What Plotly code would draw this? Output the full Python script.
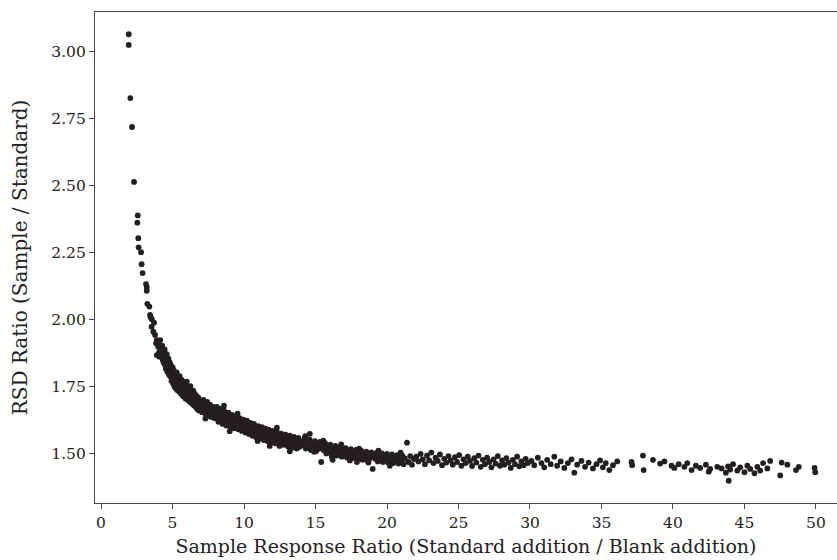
import plotly.graph_objects as go

# Steep region at low response ratios
steep_x = [1.94, 1.94, 2.05, 2.17, 2.31, 2.57, 2.54, 2.61, 2.63, 2.80, 2.84, 2.91,
           3.15, 3.20, 3.20, 3.24, 3.38, 3.43, 3.47, 3.55, 3.54, 3.66, 3.71, 3.78,
           3.90, 3.85, 4.00, 4.13, 3.90, 4.08]
steep_y = [3.066, 3.026, 2.828, 2.720, 2.515, 2.390, 2.363, 2.305, 2.271, 2.253, 2.208, 2.175,
           2.134, 2.123, 2.109, 2.060, 2.050, 2.019, 2.010, 2.003, 1.975, 1.956, 1.990, 1.944,
           1.925, 1.913, 1.900, 1.894, 1.869, 1.863]

# Knee of the curve (ratio 4 to 8)
knee_x = [4.02, 4.06, 4.10, 4.14, 4.17, 4.21, 4.24, 4.28, 4.32, 4.35, 4.38, 4.42, 4.45, 4.48,
          4.51, 4.54, 4.57, 4.60, 4.63, 4.66, 4.69, 4.72, 4.75, 4.78, 4.81, 4.84, 4.87, 4.90,
          4.93, 4.96, 4.99, 5.02, 5.05, 5.08, 5.11, 5.14, 5.17, 5.20, 5.23, 5.26, 5.29, 5.32,
          5.35, 5.38, 5.41, 5.44, 5.47, 5.50, 5.53, 5.56, 5.59, 5.62, 5.65, 5.68, 5.71, 5.74,
          5.77, 5.80, 5.83, 5.86, 5.89, 5.92, 5.95, 5.98, 6.02, 6.06, 6.10, 6.14, 6.18, 6.22,
          6.25, 6.29, 6.33, 6.37, 6.41, 6.45, 6.49, 6.53, 6.57, 6.61, 6.65, 6.69, 6.73, 6.77,
          6.81, 6.85, 6.89, 6.93, 6.97, 7.02, 7.07, 7.12, 7.17, 7.22, 7.27, 7.32, 7.37, 7.42,
          7.47, 7.52, 7.57, 7.62, 7.67, 7.72, 7.77, 7.82, 7.87, 7.92, 7.97,
          6.00, 7.30]
knee_y = [1.915, 1.878, 1.898, 1.925, 1.872, 1.890, 1.862, 1.904, 1.851, 1.878, 1.840, 1.868,
          1.890, 1.832, 1.858, 1.818, 1.846, 1.872, 1.808, 1.836, 1.824, 1.856, 1.796, 1.818,
          1.842, 1.790, 1.808, 1.830, 1.772, 1.800, 1.784, 1.822, 1.762, 1.790, 1.810, 1.752,
          1.776, 1.796, 1.744, 1.768, 1.804, 1.758, 1.738, 1.782, 1.750, 1.770, 1.732, 1.790,
          1.745, 1.762, 1.726, 1.752, 1.776, 1.720, 1.742, 1.760, 1.714, 1.736, 1.768, 1.722,
          1.748, 1.706, 1.734, 1.755, 1.712, 1.728, 1.700, 1.744, 1.716, 1.694, 1.753, 1.708,
          1.730, 1.688, 1.714, 1.736, 1.682, 1.702, 1.724, 1.676, 1.698, 1.716, 1.668, 1.690,
          1.710, 1.662, 1.684, 1.700, 1.672, 1.694, 1.656, 1.680, 1.702, 1.662, 1.686, 1.648,
          1.674, 1.694, 1.654, 1.670, 1.642, 1.684, 1.660, 1.638, 1.668, 1.650, 1.676, 1.634,
          1.656,
          1.770, 1.632]

# Middle section (ratio 8 to 14)
mid_x = [8.01, 8.06, 8.11, 8.16, 8.21, 8.26, 8.31, 8.36, 8.41, 8.46, 8.51, 8.56, 8.61, 8.66,
         8.71, 8.76, 8.81, 8.86, 8.91, 8.96, 9.01, 9.06, 9.11, 9.16, 9.21, 9.26, 9.31, 9.36,
         9.41, 9.46, 9.51, 9.55, 9.60, 9.65, 9.70, 9.75, 9.80, 9.85, 9.90, 9.95, 10.00, 10.05,
         10.10, 10.15, 10.20, 10.25, 10.30, 10.35, 10.40, 10.45, 10.50, 10.55, 10.60, 10.65,
         10.70, 10.75, 10.80, 10.85, 10.90, 10.95, 11.00, 11.05, 11.10, 11.15, 11.20, 11.25,
         11.30, 11.35, 11.40, 11.45, 11.50, 11.55, 11.60, 11.65, 11.70, 11.75, 11.80, 11.85,
         11.90, 11.95, 12.00, 12.06, 12.12, 12.18, 12.24, 12.30, 12.36, 12.42, 12.48, 12.54,
         12.60, 12.66, 12.72, 12.78, 12.84, 12.90, 12.96, 13.02, 13.08, 13.14, 13.20, 13.26,
         13.32, 13.38, 13.44, 13.50, 13.56, 13.62, 13.68, 13.74, 13.80, 13.86, 13.92,
         8.60, 9.00, 11.80, 12.30, 13.20]
mid_y = [1.664, 1.632, 1.676, 1.644, 1.620, 1.656, 1.638, 1.668, 1.626, 1.648, 1.612, 1.640,
         1.662, 1.622, 1.634, 1.606, 1.648, 1.628, 1.654, 1.612, 1.636, 1.600, 1.624, 1.646,
         1.608, 1.630, 1.596, 1.618, 1.640, 1.604, 1.624, 1.650, 1.592, 1.612, 1.634, 1.598,
         1.620, 1.586, 1.606, 1.628, 1.590, 1.612, 1.580, 1.602, 1.624, 1.586, 1.606, 1.574,
         1.596, 1.616, 1.580, 1.600, 1.568, 1.590, 1.612, 1.574, 1.594, 1.562, 1.584, 1.548,
         1.604, 1.570, 1.590, 1.558, 1.578, 1.600, 1.564, 1.584, 1.552, 1.574, 1.594, 1.560,
         1.578, 1.548, 1.570, 1.590, 1.554, 1.574, 1.544, 1.566, 1.586, 1.550, 1.568, 1.540,
         1.562, 1.582, 1.546, 1.564, 1.530, 1.556, 1.576, 1.542, 1.560, 1.534, 1.554, 1.572,
         1.538, 1.556, 1.528, 1.548, 1.568, 1.534, 1.552, 1.524, 1.546, 1.564, 1.530, 1.548,
         1.520, 1.542, 1.560, 1.526, 1.544,
         1.680, 1.585, 1.530, 1.598, 1.510]

# Shoulder (ratio 14 to 22)
shoulder_x = [14.05, 14.14, 14.23, 14.32, 14.41, 14.50, 14.59, 14.68, 14.77, 14.86, 14.95,
              15.04, 15.13, 15.22, 15.31, 15.40, 15.49, 15.58, 15.67, 15.76, 15.85, 15.94,
              16.03, 16.12, 16.21, 16.30, 16.39, 16.48, 16.57, 16.66, 16.75, 16.84, 16.93,
              17.02, 17.11, 17.20, 17.29, 17.38, 17.47, 17.56, 17.65, 17.74, 17.83, 17.92,
              18.01, 18.10, 18.19, 18.28, 18.37, 18.46, 18.55, 18.64, 18.73, 18.82, 18.91,
              19.00, 19.09, 19.18, 19.27, 19.36, 19.45, 19.54, 19.63, 19.72, 19.81, 19.90,
              19.99, 20.08, 20.17, 20.26, 20.35, 20.44, 20.53, 20.62, 20.71, 20.80, 20.89,
              20.98, 21.07, 21.16, 21.25, 21.40, 21.50, 21.62, 21.75, 21.88,
              14.28, 14.90, 15.55, 16.15, 16.80, 17.40, 18.05, 18.70, 19.40, 20.20, 20.95,
              14.60, 16.20, 17.90]
shoulder_y = [1.546, 1.532, 1.558, 1.520, 1.541, 1.528, 1.553, 1.515, 1.537, 1.524, 1.548,
              1.510, 1.532, 1.519, 1.545, 1.470, 1.528, 1.514, 1.540, 1.502, 1.524, 1.510,
              1.535, 1.498, 1.520, 1.506, 1.530, 1.494, 1.515, 1.502, 1.526, 1.490, 1.511,
              1.498, 1.522, 1.487, 1.508, 1.495, 1.518, 1.484, 1.505, 1.492, 1.515, 1.481,
              1.502, 1.489, 1.512, 1.478, 1.500, 1.487, 1.509, 1.476, 1.497, 1.484, 1.506,
              1.444, 1.495, 1.482, 1.504, 1.472, 1.493, 1.480, 1.502, 1.470, 1.491, 1.478,
              1.500, 1.468, 1.489, 1.476, 1.498, 1.466, 1.487, 1.474, 1.496, 1.464, 1.485,
              1.472, 1.494, 1.462, 1.483, 1.542, 1.470, 1.492, 1.460, 1.481,
              1.566, 1.508, 1.550, 1.488, 1.536, 1.476, 1.520, 1.468, 1.512, 1.456, 1.505,
              1.575, 1.478, 1.470]

# Long flat tail (ratio above 22)
tail_x = [22.05, 22.20, 22.35, 22.50, 22.65, 22.80, 22.95, 23.10, 23.25, 23.40, 23.55, 23.70,
          23.85, 24.00, 24.15, 24.30, 24.45, 24.60, 24.75, 24.90, 25.05, 25.20, 25.35, 25.50,
          25.65, 25.80, 25.95, 26.10, 26.25, 26.40, 26.55, 26.70, 26.85, 27.00, 27.15, 27.30,
          27.45, 27.60, 27.75, 27.90, 28.05, 28.20, 28.35, 28.50, 28.65, 28.80, 28.95, 29.10,
          29.25, 29.40, 29.55, 29.70, 29.85,
          30.10, 30.30, 30.55, 30.80, 31.00, 31.20, 31.45, 31.70, 31.90, 32.15, 32.40, 32.65,
          32.90, 33.10, 33.30, 33.60, 33.85, 34.10, 34.40, 34.65, 34.90, 35.10, 35.30, 35.55,
          35.80, 36.10,
          37.10, 37.15, 37.90, 37.95, 38.60, 39.10, 39.40, 39.90, 40.10, 40.40, 40.80, 41.00,
          41.30, 41.60, 41.90, 42.30, 42.50, 42.60, 43.10, 43.40, 43.70, 43.85, 43.90, 44.00,
          44.20, 44.50, 44.70, 45.00, 45.20, 45.40, 45.70, 45.90, 46.10, 46.30, 46.60, 46.80,
          47.50, 47.60, 48.00, 48.60, 48.80, 49.90, 49.95]
tail_y = [1.490, 1.472, 1.500, 1.480, 1.462, 1.494, 1.476, 1.505, 1.466, 1.486, 1.474, 1.498,
          1.458, 1.482, 1.468, 1.492, 1.476, 1.460, 1.488, 1.470, 1.496, 1.456, 1.480, 1.466,
          1.490, 1.474, 1.455, 1.484, 1.468, 1.494, 1.452, 1.478, 1.462, 1.486, 1.470, 1.450,
          1.480, 1.464, 1.492, 1.456, 1.476, 1.460, 1.484, 1.468, 1.448, 1.478, 1.462, 1.490,
          1.454, 1.472, 1.458, 1.482, 1.466,
          1.474, 1.458, 1.486, 1.466, 1.450, 1.478, 1.462, 1.490, 1.456, 1.472, 1.448, 1.466,
          1.480, 1.430, 1.460, 1.474, 1.452, 1.468, 1.446, 1.462, 1.476, 1.450, 1.466, 1.440,
          1.458, 1.472,
          1.470, 1.458, 1.494, 1.440, 1.478, 1.464, 1.472, 1.456, 1.448, 1.462, 1.452, 1.466,
          1.440, 1.456, 1.448, 1.460, 1.434, 1.444, 1.452, 1.446, 1.430, 1.454, 1.400, 1.442,
          1.462, 1.438, 1.450, 1.432, 1.456, 1.444, 1.428, 1.452, 1.438, 1.466, 1.446, 1.474,
          1.420, 1.468, 1.460, 1.440, 1.452, 1.448, 1.432]

x_ticks = [0, 5, 10, 15, 20, 25, 30, 35, 40, 45, 50]
y_ticks = [1.50, 1.75, 2.00, 2.25, 2.50, 2.75, 3.00]

ratio = steep_x + knee_x + mid_x + shoulder_x + tail_x
rsd = steep_y + knee_y + mid_y + shoulder_y + tail_y

FONT = "DejaVu Serif"
INK = "#231f20"
AXIS = "#4a4a4a"

fig = go.Figure(
    go.Scatter(
        x=ratio, y=rsd, mode="markers",
        marker=dict(size=5.8, color=INK, line=dict(width=0)),
        hoverinfo="x+y",
    )
)

fig.update_layout(
    width=837, height=560,
    margin=dict(l=95, r=0, t=12, b=57),
    paper_bgcolor="white", plot_bgcolor="white",
    font=dict(family=FONT, color="#222222", size=15),
    showlegend=False,
)

fig.update_xaxes(
    range=[-0.42, 51.47],
    tickvals=x_ticks, ticktext=[str(v) for v in x_ticks],
    ticks="outside", ticklen=5, tickwidth=1, tickcolor=AXIS,
    showline=True, linecolor=AXIS, linewidth=1.2, mirror=True,
    showgrid=False, zeroline=False,
    tickfont=dict(family=FONT, size=15.5),
    title=dict(text="Sample Response Ratio (Standard addition / Blank addition)",
               font=dict(family=FONT, size=19), standoff=8),
)
fig.update_yaxes(
    range=[1.317, 3.149],
    tickvals=y_ticks, ticktext=[f"{v:.2f}" for v in y_ticks],
    ticks="outside", ticklen=5, tickwidth=1, tickcolor=AXIS,
    showline=True, linecolor=AXIS, linewidth=1.2, mirror=False,
    showgrid=False, zeroline=False,
    tickfont=dict(family=FONT, size=15.5),
    title=dict(text="RSD Ratio (Sample / Standard)",
               font=dict(family=FONT, size=20), standoff=18),
)

fig.write_html("out.html")
